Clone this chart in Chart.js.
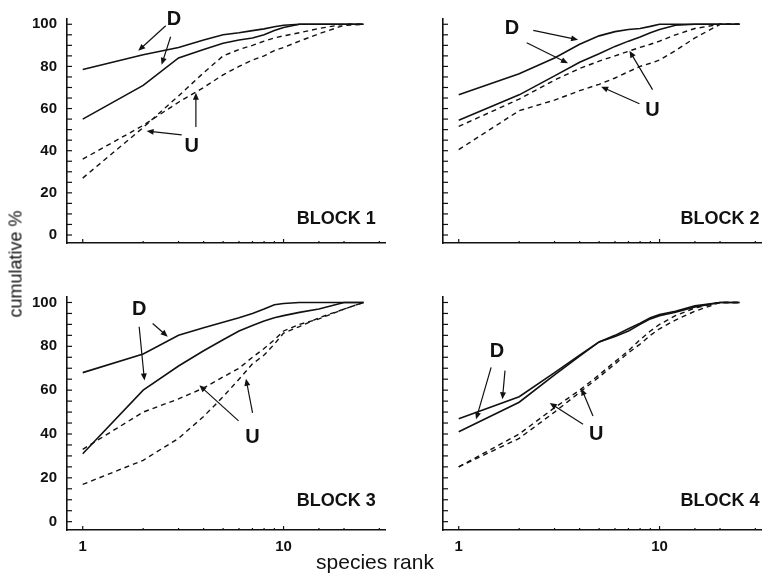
<!DOCTYPE html>
<html>
<head>
<meta charset="utf-8">
<script src="https://cdn.jsdelivr.net/npm/chart.js@4.4.0/dist/chart.umd.min.js"></script>
<style>
body{margin:0;background:#fff;width:769px;height:577px;overflow:hidden;position:relative;font-family:"Liberation Sans",Arial,sans-serif;color:#111}
canvas{position:absolute}
#g1{left:0;top:0}
#g2{left:380px;top:0}
#g3{left:0;top:278px}
#g4{left:380px;top:278px}
#tituloY{position:absolute;left:16px;top:264px;transform:translate(-50%,-50%) rotate(-90deg);font-size:18px;white-space:nowrap}
#tituloX{position:absolute;left:375px;top:562px;transform:translate(-50%,-50%);font-size:21px;white-space:nowrap}
</style>
</head>
<body>
<canvas id="g1" width="395" height="262"></canvas>
<canvas id="g2" width="389" height="262"></canvas>
<canvas id="g3" width="395" height="282"></canvas>
<canvas id="g4" width="389" height="282"></canvas>
<div id="tituloY">cumulative %</div>
<div id="tituloX">species rank</div>
<script>
// rango de especies (eje x, logaritmico)
var rangos = [1,2,3,4,5,6,7,8,9,10,12,15,20,25];

// BLOCK 1
var b1D1 = [78.5,85.5,89,92.5,95,96,97,97.8,98.8,99.5,100,100,100,100];
var b1D2 = [55,71,84,88,91,92.5,93.5,95,97,98.5,100,100,100,100];
var b1U1 = [36,52,63,70,76,80,83,85,87.5,89,92,95.5,99.5,100];
var b1U2 = [27,51,66,77,85,88,90,92,93.5,94.5,96,98,100,100];

// BLOCK 2
var b2D1 = [66.5,76.5,84,90.5,94.5,96.5,97.5,98,99,100,100,100,100,100];
var b2D2 = [54.5,66.5,75.5,82,86,89.5,92,94,96,97.5,99.5,100,100,100];
var b2U1 = [51.5,64.5,73.5,79,82.5,85,87.2,89,90.5,92,95,98,100,100];
var b2U2 = [40.5,59,64,68.5,71.5,74.5,77.5,80,81.5,83,87.5,93.5,100,100];

// BLOCK 3
var b3D1 = [68,76.5,85,88.5,91,93,95,97,99,99.5,100,100,100,100];
var b3D2 = [31,60,71,78,83,87,89.5,91.5,93,94,95.5,97,100,100];
var b3U1 = [33,50,56,61,66,70,75,79,83,87,90,92.5,97,100];
var b3U2 = [17,28,38,48,57,65,72,76,81,86,89,93,97,100];

// BLOCK 4
var b4D1 = [47,57,68,76,82,85,88,90.5,93,94.5,96,98.5,100,100];
var b4D2 = [41,54.5,67,75.5,82,84.5,87,90,92.5,94,95.5,98,100,100];
var b4U1 = [25,40,52,60,67,73,78,83,87,90,94,97.5,100,100];
var b4U2 = [25,38,50,59,66,72,77,81,85,88,92,96,100,100];

var etiquetasY = [0,20,40,60,80,100];
var etiquetasX = [1,10];

// notas: texto y flechas en coordenadas de datos (rango, %)
var notas1 = {
    textos: [['D',2.85,102.5],['U',3.49,41.9],['BLOCK 1',28.8,7.4,'right']],
    flechas: [[2.59,99.3,1.89,87.4],[2.74,94.1,2.47,80.8],[3.11,47.5,2.08,49.3],[3.66,51.2,3.66,67.5]]
};
var notas2 = {
    textos: [['D',1.84,97.8],['U',9.23,59.3],['BLOCK 2',31.5,7.4,'right']],
    flechas: [[2.35,97.1,3.93,92.6],[2.18,91.2,3.5,81.5],[7.94,62.3,5.12,70.4],[9.23,69,7.08,87.4]]
};
var notas3 = {
    textos: [['D',1.91,97],['U',7.01,38.5],['BLOCK 3',28.8,9.6,'right']],
    flechas: [[2.23,90.4,2.65,84.4],[1.91,88.9,2.03,64.4],[5.97,46,3.81,62.2],[7.01,49.6,6.5,65.2]]
};
var notas4 = {
    textos: [['D',1.55,77.8],['U',4.84,40],['BLOCK 4',31.5,9.6,'right']],
    flechas: [[1.45,70.4,1.22,46.7],[1.70,68.9,1.65,55.9],[4.16,44.4,2.84,54.1],[4.66,48.2,4.08,60.8]]
};

var marcas = {
    id: 'marcas',
    afterDraw: function(chart, args, opts){
        var ctx = chart.ctx;
        var xs = chart.scales.x;
        var ys = chart.scales.y;
        var a = chart.chartArea;
        ctx.save();
        ctx.strokeStyle = '#111';
        ctx.fillStyle = '#111';
        ctx.lineWidth = 1.2;
        // marcas del eje y cada 5, hacia dentro
        ys.ticks.forEach(function(t){
            if(t.value % 5 !== 0) return;
            var py = ys.getPixelForValue(t.value);
            ctx.beginPath();
            ctx.moveTo(a.left, py);
            ctx.lineTo(a.left + 5, py);
            ctx.stroke();
        });
        // marcas del eje x
        xs.ticks.forEach(function(t){
            var v = t.value;
            if(Math.abs(v - Math.round(v)) > 1e-6 || v < 1 || v > 30) return;
            var px = xs.getPixelForValue(v);
            ctx.beginPath();
            ctx.moveTo(px, a.bottom);
            ctx.lineTo(px, a.bottom - (etiquetasX.indexOf(v) >= 0 ? 4 : 2));
            ctx.stroke();
        });
        // flechas
        ctx.lineWidth = 1.2;
        (opts.flechas || []).forEach(function(f){
            var x1 = xs.getPixelForValue(f[0]), y1 = ys.getPixelForValue(f[1]);
            var x2 = xs.getPixelForValue(f[2]), y2 = ys.getPixelForValue(f[3]);
            var ang = Math.atan2(y2 - y1, x2 - x1);
            var L = 7, W = 3;
            ctx.beginPath();
            ctx.moveTo(x1, y1);
            ctx.lineTo(x2 - Math.cos(ang) * L * 0.8, y2 - Math.sin(ang) * L * 0.8);
            ctx.stroke();
            ctx.beginPath();
            ctx.moveTo(x2, y2);
            ctx.lineTo(x2 - Math.cos(ang) * L - Math.sin(ang) * W, y2 - Math.sin(ang) * L + Math.cos(ang) * W);
            ctx.lineTo(x2 - Math.cos(ang) * L + Math.sin(ang) * W, y2 - Math.sin(ang) * L - Math.cos(ang) * W);
            ctx.closePath();
            ctx.fill();
        });
        // textos
        ctx.textBaseline = 'middle';
        (opts.textos || []).forEach(function(t){
            var px = xs.getPixelForValue(t[1]), py = ys.getPixelForValue(t[2]);
            if(t[3] === 'right'){
                ctx.font = 'bold 18px "Liberation Sans", Arial, sans-serif';
                ctx.textAlign = 'right';
            } else {
                ctx.font = 'bold 20px "Liberation Sans", Arial, sans-serif';
                ctx.textAlign = 'center';
            }
            ctx.fillText(t[0], px, py);
        });
        ctx.restore();
    }
};

function serie(valores, discontinua){
    return {
        data: rangos.map(function(r, i){ return {x: r, y: valores[i]}; }),
        borderColor: '#111',
        borderWidth: discontinua ? 1.4 : 1.6,
        borderDash: discontinua ? [5,4] : [],
        pointRadius: 0,
        fill: false,
        tension: 0
    };
}

function crearPanel(id, series, notas, anchoY, conX, conY, margenDer){
    var ctx = document.getElementById(id);
    return new Chart(ctx, {
        type: 'line',
        data: {
            datasets: [serie(series[0], false), serie(series[1], false), serie(series[2], true), serie(series[3], true)]
        },
        options: {
            responsive: false,
            animation: false,
            devicePixelRatio: 1,
            layout: { padding: { top: 12.5, right: margenDer, left: 0, bottom: 0 } },
            scales: {
                x: {
                    type: 'logarithmic',
                    min: 0.835,
                    max: 32,
                    grid: { display: false, drawTicks: false },
                    border: { display: true, color: '#111', width: 1.6 },
                    ticks: {
                        autoSkip: false,
                        maxRotation: 0,
                        padding: 8,
                        color: '#111',
                        font: { family: '"Liberation Sans", Arial, sans-serif', size: 15, weight: 'bold' },
                        callback: function(v){
                            if(!conX) return '';
                            return etiquetasX.indexOf(v) >= 0 ? String(v) : '';
                        }
                    },
                    afterFit: function(s){ s.height = conX ? 30 : 10; }
                },
                y: {
                    min: -3.8,
                    max: 102.5,
                    grid: { display: false, drawTicks: false },
                    border: { display: true, color: '#111', width: 1.6 },
                    ticks: {
                        stepSize: 5,
                        includeBounds: false,
                        autoSkip: false,
                        padding: 10,
                        color: '#111',
                        font: { family: '"Liberation Sans", Arial, sans-serif', size: 15, weight: 'bold' },
                        callback: function(v){
                            if(!conY) return '';
                            return etiquetasY.indexOf(v) >= 0 ? String(v) : '';
                        }
                    },
                    afterFit: function(s){ s.width = anchoY; }
                }
            },
            plugins: {
                legend: { display: false },
                tooltip: { enabled: false },
                marcas: notas
            }
        },
        plugins: [marcas]
    });
}

crearPanel('g1', [b1D1, b1D2, b1U1, b1U2], notas1, 67, false, true, 10);
crearPanel('g2', [b2D1, b2D2, b2U1, b2U2], notas2, 63, false, false, 4);
crearPanel('g3', [b3D1, b3D2, b3U1, b3U2], notas3, 67, true, true, 10);
crearPanel('g4', [b4D1, b4D2, b4U1, b4U2], notas4, 63, true, false, 4);
</script>
</body>
</html>
